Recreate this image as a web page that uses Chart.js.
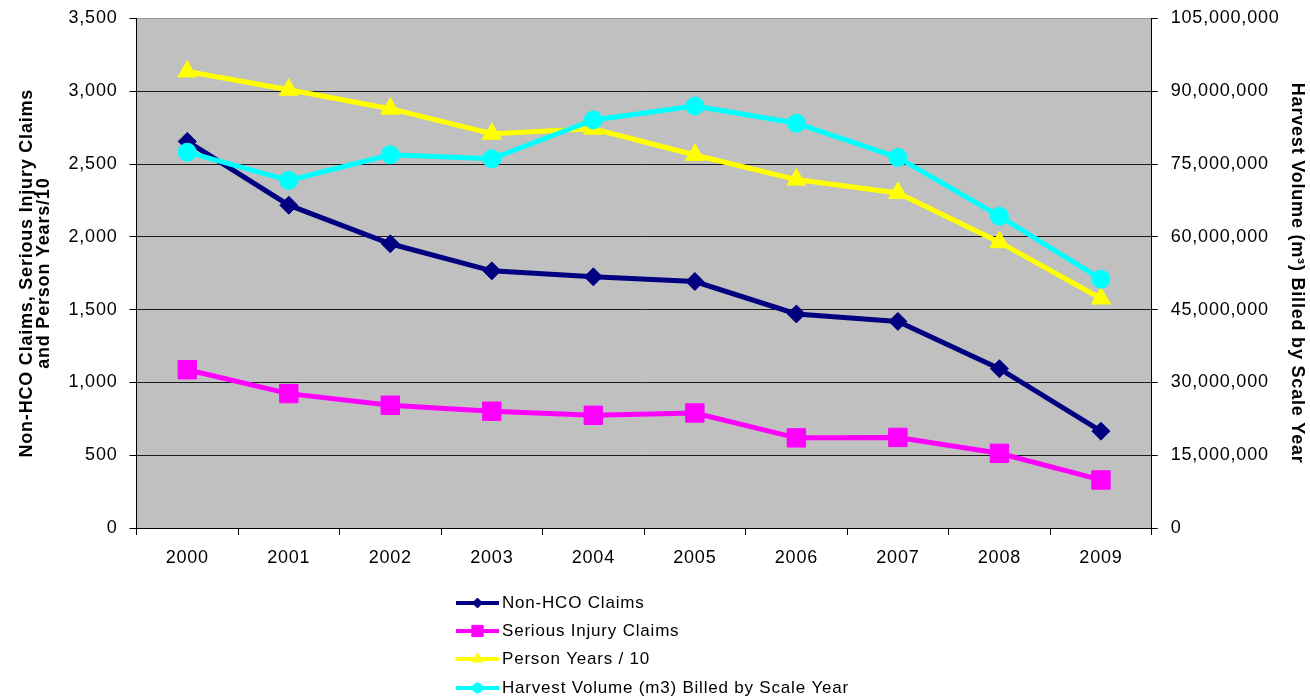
<!DOCTYPE html>
<html>
<head>
<meta charset="utf-8">
<script src="https://cdn.jsdelivr.net/npm/chart.js"></script>
<style>
    html, body { margin: 0; padding: 0; background: #fff; }
    #wrap { width: 1310px; height: 698px; position: relative; }
</style>
</head>
<body>
<div id="wrap"><canvas id="claimsChart"></canvas></div>
<script>
const years = ['2000', '2001', '2002', '2003', '2004', '2005', '2006', '2007', '2008', '2009'];
const nonHcoClaims = [2655, 2217, 1952, 1766, 1725, 1693, 1470, 1419, 1094, 665];
const seriousInjuryClaims = [1087, 923, 843, 802, 774, 790, 619, 622, 513, 330];
const personYearsDiv10 = [3135, 3010, 2880, 2708, 2742, 2562, 2393, 2301, 1963, 1576];
const harvestVolume = [77440000, 71630000, 76900000, 76080000, 84080000, 86950000, 83390000, 76350000, 64250000, 51270000];

const FONT = '"Liberation Sans", Arial, sans-serif';

// the original text is a bit wide, a little letter spacing gets close
const wideText = {
    id: 'wideText',
    beforeUpdate(chart) { chart.ctx.letterSpacing = '0.8px'; },
    beforeDraw(chart) { chart.ctx.letterSpacing = '0.8px'; },
};

// grey plot area like the spreadsheet original
const plotBackground = {
    id: 'plotBackground',
    beforeDraw(chart) {
        const { ctx, chartArea: a } = chart;
        ctx.save();
        ctx.fillStyle = '#c0c0c0';
        ctx.fillRect(a.left, a.top, a.right - a.left, a.bottom - a.top);
        ctx.restore();
    }
};

// legend: line sample with marker, stacked under the chart
const lineLegend = {
    id: 'lineLegend',
    afterDraw(chart) {
        const { ctx } = chart;
        const x0 = 456, x1 = 499, rows = [603, 631, 659, 688];
        ctx.save();
        chart.data.datasets.forEach((ds, i) => {
            const y = rows[i];
            ctx.strokeStyle = ds.borderColor;
            ctx.lineWidth = 4;
            ctx.beginPath();
            ctx.moveTo(x0, y);
            ctx.lineTo(x1, y);
            ctx.stroke();
            ctx.fillStyle = ds.borderColor;
            ctx.strokeStyle = ds.borderColor;
            ctx.lineWidth = 1;
            Chart.helpers.drawPoint(ctx, {
                pointStyle: ds.pointStyle,
                radius: ds.legendRadius,
                borderWidth: 1,
                rotation: 0
            }, (x0 + x1) / 2, y);
            ctx.fillStyle = '#000';
            ctx.font = '17px ' + FONT;
            ctx.textBaseline = 'middle';
            ctx.textAlign = 'left';
            ctx.fillText(ds.label, 502, y);
        });
        ctx.restore();
    }
};

const fmt = (v) => Number(v).toLocaleString('en-US');

const config = {
    type: 'line',
    data: {
        labels: years,
        datasets: [
            {
                label: 'Non-HCO Claims',
                data: nonHcoClaims,
                yAxisID: 'y',
                borderColor: '#000080',
                backgroundColor: '#000080',
                pointStyle: 'rectRot',
                pointRadius: 9,
                legendRadius: 5,
                order: 4,
            },
            {
                label: 'Serious Injury Claims',
                data: seriousInjuryClaims,
                yAxisID: 'y',
                borderColor: '#ff00ff',
                backgroundColor: '#ff00ff',
                pointStyle: 'rect',
                pointRadius: 13,
                legendRadius: 8,
                order: 3,
            },
            {
                label: 'Person Years / 10',
                data: personYearsDiv10,
                yAxisID: 'y',
                borderColor: '#ffff00',
                backgroundColor: '#ffff00',
                pointStyle: 'triangle',
                pointRadius: 11,
                legendRadius: 6,
                order: 2,
            },
            {
                label: 'Harvest Volume (m3) Billed by Scale Year',
                data: harvestVolume,
                yAxisID: 'y1',
                borderColor: '#00ffff',
                backgroundColor: '#00ffff',
                pointStyle: 'circle',
                pointRadius: 9,
                legendRadius: 5,
                order: 1,
            },
        ],
    },
    options: {
        responsive: true,
        maintainAspectRatio: false,
        animation: false,
        layout: { padding: { top: 16, left: 0, right: 0, bottom: 0 } },
        elements: {
            line: { borderWidth: 5, tension: 0 },
            point: { borderWidth: 1, hoverRadius: 9 },
        },
        plugins: {
            legend: { display: false },
            tooltip: { enabled: false },
        },
        scales: {
            x: {
                offset: true,
                grid: { offset: true, drawOnChartArea: false, color: '#000', tickLength: 7 },
                border: { color: '#000', width: 1 },
                ticks: { color: '#000', font: { family: FONT, size: 18 }, padding: 12, maxRotation: 0 },
                afterFit: (s) => { s.height = 170; },
            },
            y: {
                position: 'left',
                min: 0,
                max: 3500,
                ticks: { stepSize: 500, color: '#000', font: { family: FONT, size: 18, lineHeight: 0.6 }, padding: 12, callback: fmt },
                grid: {
                    color: (c) => (c.tick && c.tick.value === 3500 ? '#9a9a9a' : '#1a1a1a'),
                    tickColor: '#000',
                    tickLength: 7,
                    lineWidth: 1,
                },
                border: { color: '#000', width: 1 },
                title: {
                    display: true,
                    text: ['Non-HCO Claims, Serious Injury Claims', 'and Person Years/10'],
                    color: '#000',
                    font: { family: FONT, size: 18, weight: 'bold', lineHeight: 0.95 },
                    padding: { top: 18, bottom: 0 },
                },
                afterFit: (s) => { s.width = 136.5; },
            },
            y1: {
                position: 'right',
                min: 0,
                max: 105000000,
                ticks: { stepSize: 15000000, color: '#000', font: { family: FONT, size: 18, lineHeight: 0.6 }, padding: 13, callback: fmt },
                grid: { drawOnChartArea: false, color: '#000', tickLength: 6 },
                border: { color: '#000', width: 1 },
                title: {
                    display: true,
                    text: 'Harvest Volume (m³) Billed by Scale Year',
                    color: '#000',
                    font: { family: FONT, size: 18, weight: 'bold' },
                    padding: { top: 2, bottom: 0 },
                },
                afterFit: (s) => { s.width = 158.3; },
            },
        },
    },
    plugins: [wideText, plotBackground, lineLegend],
};

document.addEventListener('DOMContentLoaded', () => {
    const $canvas = document.getElementById('claimsChart');
    new Chart($canvas, config);
});
</script>
</body>
</html>
